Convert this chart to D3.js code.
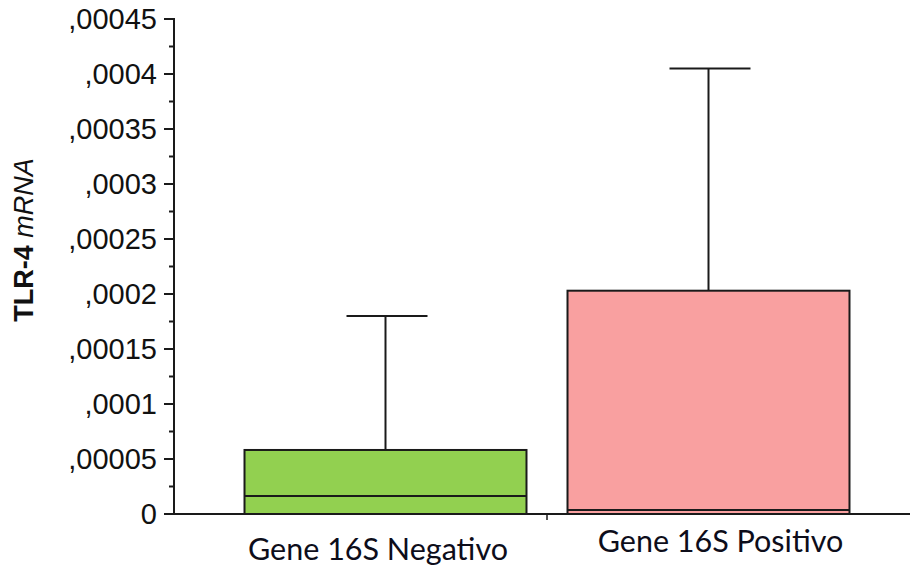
<!DOCTYPE html>
<html><head><meta charset="utf-8">
<script src="https://cdn.jsdelivr.net/npm/d3@7"></script>
<style>body{margin:0;background:#fff}svg{display:block}</style>
</head><body>
<svg id="c" width="910" height="567"></svg>
<script>
const categories = ["Gene 16S Negativo", "Gene 16S Positivo"];
const boxTop = [0.0000582, 0.000203];
const medians = [0.0000164, 0.0000036];
const whiskerTop = [0.00018, 0.000405];
const colors = ["#92D050", "#F9A0A0"];
const tickValues = [0, 0.00005, 0.0001, 0.00015, 0.0002, 0.00025, 0.0003, 0.00035, 0.0004, 0.00045];
const tickLabels = ["0", ",00005", ",0001", ",00015", ",0002", ",00025", ",0003", ",00035", ",0004", ",00045"];

const svg = d3.select("#c");
const y = d3.scaleLinear().domain([0, 0.00045]).range([514, 19]);
const x = d3.scaleBand().domain(categories).range([224, 870]).padding(0);
const bw = x.bandwidth() * 0.873;
const axisX = 174;
const ink = "#1a1a1a";

// minor ticks
const minor = d3.range(0, 0.00045001, 0.000025);
svg.append("g").selectAll("line").data(minor).join("line")
  .attr("x1", axisX - 5).attr("x2", axisX).attr("y1", d => y(d)).attr("y2", d => y(d))
  .attr("stroke", ink).attr("stroke-width", 2);
// major ticks + labels
const g = svg.append("g");
g.selectAll("line").data(tickValues).join("line")
  .attr("x1", axisX - 10).attr("x2", axisX).attr("y1", d => y(d)).attr("y2", d => y(d))
  .attr("stroke", ink).attr("stroke-width", 2);
g.selectAll("text").data(tickValues).join("text")
  .attr("x", 157).attr("y", d => y(d) + 10)
  .attr("text-anchor", "end")
  .attr("font-family", "Liberation Sans, Arial, sans-serif").attr("font-size", 29)
  .attr("fill", "#111")
  .text((d, i) => tickLabels[i]);
// y axis line
svg.append("line").attr("x1", axisX).attr("x2", axisX).attr("y1", y(0.00045) - 1).attr("y2", y(0) + 1)
  .attr("stroke", ink).attr("stroke-width", 2);

// boxes
const boxes = svg.append("g");
categories.forEach((c, i) => {
  const cx = x(c) + x.bandwidth() / 2;
  boxes.append("line").attr("x1", cx).attr("x2", cx).attr("y1", y(whiskerTop[i])).attr("y2", y(boxTop[i]))
    .attr("stroke", ink).attr("stroke-width", 2);
  boxes.append("line").attr("x1", cx - 39).attr("x2", cx + 42).attr("y1", y(whiskerTop[i])).attr("y2", y(whiskerTop[i]))
    .attr("stroke", ink).attr("stroke-width", 2);
  boxes.append("rect").attr("x", cx - bw / 2).attr("y", y(boxTop[i]))
    .attr("width", bw).attr("height", y(0) - y(boxTop[i]))
    .attr("fill", colors[i]).attr("stroke", ink).attr("stroke-width", 2);
  boxes.append("line").attr("x1", cx - bw / 2).attr("x2", cx + bw / 2).attr("y1", y(medians[i])).attr("y2", y(medians[i]))
    .attr("stroke", ink).attr("stroke-width", 2);
});

// x axis line
svg.append("line").attr("x1", axisX - 10).attr("x2", 910).attr("y1", y(0)).attr("y2", y(0))
  .attr("stroke", ink).attr("stroke-width", 2);
// category separator tick
svg.append("line").attr("x1", x(categories[1])).attr("x2", x(categories[1]))
  .attr("y1", y(0)).attr("y2", y(0) + 6).attr("stroke", ink).attr("stroke-width", 1.5);

// category labels
const labelDx = [-7.5, 12];
const labelY = [560, 552];
svg.append("g").selectAll("text").data(categories).join("text")
  .attr("x", (d, i) => x(d) + x.bandwidth() / 2 + labelDx[i])
  .attr("y", (d, i) => labelY[i])
  .attr("text-anchor", "middle")
  .attr("font-family", "Lato, 'Open Sans', sans-serif").attr("font-size", 30.5)
  .attr("fill", "#0d0d1a")
  .text(d => d);

// y title
const t = svg.append("text").attr("transform", "translate(33,240) rotate(-90)")
  .attr("text-anchor", "middle")
  .attr("font-family", "Liberation Sans, Arial, sans-serif").attr("font-size", 27)
  .attr("fill", "#111");
t.append("tspan").attr("font-weight", "bold").text("TLR-4 ");
t.append("tspan").attr("font-style", "italic").text("mRNA");
</script>
</body></html>
